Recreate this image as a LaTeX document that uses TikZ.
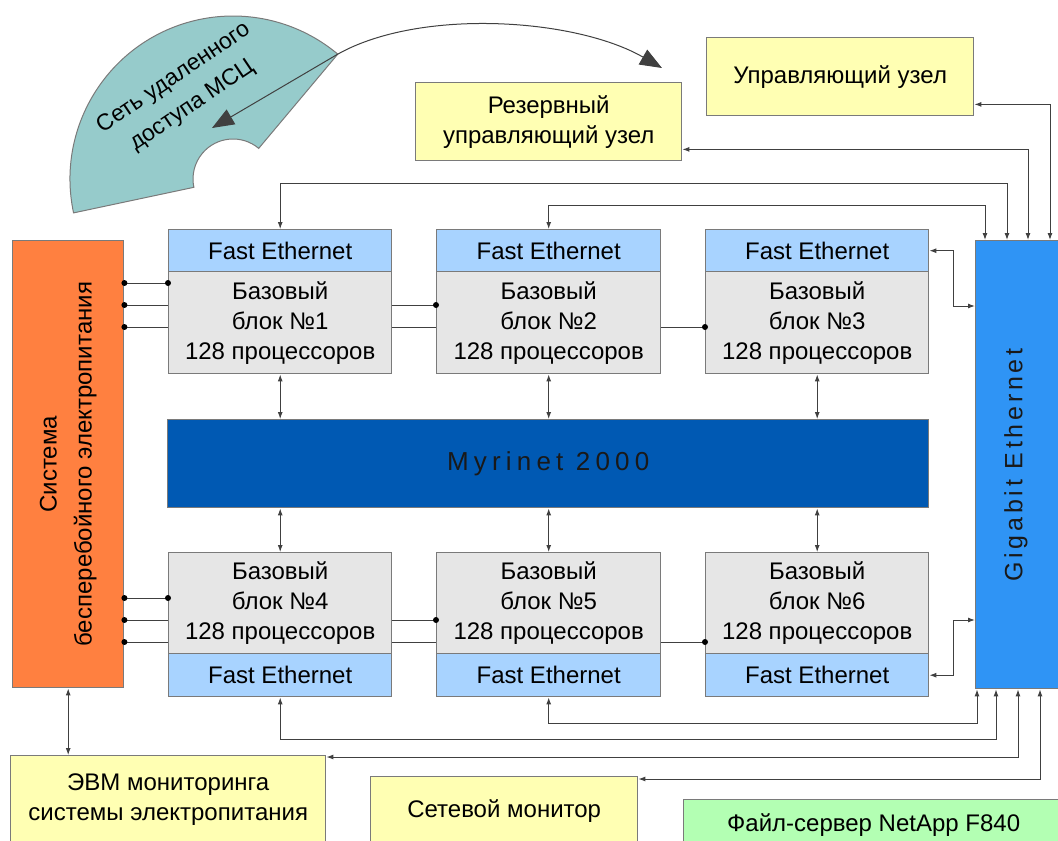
\documentclass[tikz,border=0pt]{standalone}
\usepackage{fontspec}
\setmainfont{Liberation Sans}
\newfontfamily\myrifont[LetterSpace=20]{Liberation Sans}
\newfontfamily\gigafont[LetterSpace=15]{Liberation Sans}
\usetikzlibrary{arrows.meta,calc}
\definecolor{feblue}{HTML}{A8D3FF}
\definecolor{bodygray}{HTML}{E6E6E6}
\definecolor{myri}{HTML}{0059B3}
\definecolor{giga}{HTML}{2F94F5}
\definecolor{upsorange}{HTML}{FF8040}
\definecolor{ylw}{HTML}{FFFFB3}
\definecolor{grn}{HTML}{B3FFB3}
\definecolor{tealarc}{HTML}{96CBCB}
\definecolor{edge}{HTML}{7A7A7A}
\definecolor{wirec}{HTML}{404040}
\begin{document}
\begin{tikzpicture}[x=1pt,y=-1pt,
  box/.style={draw=edge, line width=1.4pt, inner sep=0pt, anchor=north west,
    font=\fontsize{24}{30}\selectfont, align=center},
  wire/.style={draw=wirec, line width=1pt},
  dbl/.style={wire, {Latex[length=7pt,width=5pt]}-{Latex[length=7pt,width=5pt]}},
  dotc/.style={fill=black}
]
\useasboundingbox (0,0) rectangle (1058,841);

% remote access arc
\coordinate (ac) at (233,179);
\filldraw[fill=tealarc, draw=edge, line width=1pt]
  ($(ac)+(168:163)$) arc[start angle=168, end angle=310, radius=163]
  -- ($(ac)+(310:40)$) arc[start angle=310, end angle=168, radius=40] -- cycle;
\coordinate (arcpt) at ($(ac)+(310:163)$);
\node[rotate=34, align=center, font=\fontsize{23}{33}\selectfont] (msc) at (183,92)
  {Сеть удаленного\\доступа МСЦ};
\coordinate (tipA) at (662,68);
\coordinate (tipB) at (212,128);
\draw[wire, -{Triangle[length=22pt,width=17pt]}] (arcpt) .. controls (420,8) and (575,18) .. (tipA);
\draw[wire, -{Triangle[length=22pt,width=17pt]}] (arcpt) -- (tipB);

% control nodes
\node[box, fill=ylw, minimum width=267pt, minimum height=78pt] (ctrl) at (706,37) {Управляющий узел};
\node[box, fill=ylw, minimum width=266pt, minimum height=78pt] (res) at (415,82) {Резервный\\управляющий узел};

% UPS
\node[box, fill=upsorange, minimum width=111pt, minimum height=447pt] (ups) at (12,240) {};
\node[rotate=90, align=center, font=\fontsize{24}{35}\selectfont] (upsl) at (ups.center)
  {Система\\бесперебойного электропитания};

% Gigabit
\node[box, fill=giga, minimum width=88pt, minimum height=448pt] (gig) at (975,240) {};
\node[rotate=90, font=\gigafont\fontsize{25}{28}\selectfont, text=black!90] (gigl) at (1016,465) {Gigabit Ethernet};

% blocks top
\node[box, fill=feblue, minimum width=223pt, minimum height=42pt] (fe1) at (168,229) {Fast Ethernet};
\node[box, fill=bodygray, minimum width=223pt, minimum height=102pt] (b1) at (168,271) {Базовый\\блок №1\\128 процессоров};
\node[box, fill=feblue, minimum width=224pt, minimum height=42pt] (fe2) at (436,229) {Fast Ethernet};
\node[box, fill=bodygray, minimum width=224pt, minimum height=102pt] (b2) at (436,271) {Базовый\\блок №2\\128 процессоров};
\node[box, fill=feblue, minimum width=223pt, minimum height=42pt] (fe3) at (705,229) {Fast Ethernet};
\node[box, fill=bodygray, minimum width=223pt, minimum height=102pt] (b3) at (705,271) {Базовый\\блок №3\\128 процессоров};

% Myrinet
\node[box, fill=myri, minimum width=761pt, minimum height=88pt,
  font=\myrifont\fontsize{26}{30}\selectfont, text=black!90] (myr) at (167,419) {Myrinet 2000};

% blocks bottom
\node[box, fill=bodygray, minimum width=223pt, minimum height=101pt] (b4) at (168,552) {Базовый\\блок №4\\128 процессоров};
\node[box, fill=feblue, minimum width=223pt, minimum height=43pt] (fe4) at (168,653) {Fast Ethernet};
\node[box, fill=bodygray, minimum width=224pt, minimum height=101pt] (b5) at (436,552) {Базовый\\блок №5\\128 процессоров};
\node[box, fill=feblue, minimum width=224pt, minimum height=43pt] (fe5) at (436,653) {Fast Ethernet};
\node[box, fill=bodygray, minimum width=223pt, minimum height=101pt] (b6) at (705,552) {Базовый\\блок №6\\128 процессоров};
\node[box, fill=feblue, minimum width=223pt, minimum height=43pt] (fe6) at (705,653) {Fast Ethernet};

% bottom nodes
\node[box, fill=ylw, minimum width=315pt, minimum height=88pt] (evm) at (10,755) {ЭВМ мониторинга\\системы электропитания};
\node[box, fill=ylw, minimum width=267pt, minimum height=68pt] (net) at (370,776) {Сетевой монитор};
\node[box, fill=grn, minimum width=380pt, minimum height=50pt] (nas) at (683,799) {Файл-сервер NetApp F840};

% Gigabit top connections
\draw[dbl] (fe1.north) -- ++(0,-46) -| ($(gig.north west)+(32,0)$);
\draw[dbl] (fe2.north) -- ++(0,-24) -| ($(gig.north west)+(10,0)$);
\draw[dbl] ($(res.south east)+(0,-12)$) -| ($(gig.north west)+(53,0)$);
\draw[dbl] ($(ctrl.south east)+(0,-12)$) -| ($(gig.north west)+(75,0)$);
% side connections
\draw[dbl] (fe3.east) -- ++(24,0) |- ($(gig.north west)+(0,66)$);
\draw[dbl] (fe6.east) -- ++(24,0) |- ($(gig.north west)+(0,380)$);
% Gigabit bottom connections
\draw[dbl] (fe5.south) -- ++(0,26) -| ($(gig.south west)+(2,0)$);
\draw[dbl] (fe4.south) -- ++(0,42) -| ($(gig.south west)+(21,0)$);
\draw[dbl] ($(evm.north east)+(0,2)$) -| ($(gig.south west)+(43,0)$);
\draw[dbl] ($(net.north east)+(0,3)$) -| ($(gig.south west)+(65,0)$);

% Myrinet links
\foreach \b in {b1,b2,b3} {\draw[dbl] (\b.south) -- (\b.south |- myr.north);}
\foreach \b in {b4,b5,b6} {\draw[dbl] (myr.south -| \b.north) -- (\b.north);}

% UPS to monitoring PC
\draw[dbl] (ups.south) -- (ups.south |- evm.north);

% power lines top
\coordinate (p1) at ($(b1.north west)+(0,12)$);
\coordinate (p2) at ($(b1.north west)+(0,34)$);
\coordinate (p3) at ($(b1.north west)+(0,56)$);
\draw[wire] (p1 -| ups.east) -- (p1);
\draw[wire] (p2 -| ups.east) -- (p2);
\draw[wire] (p3 -| ups.east) -- (p3);
\draw[wire] (p2 -| b1.east) -- (p2 -| b2.west);
\draw[wire] (p3 -| b1.east) -- (p3 -| b2.west);
\draw[wire] (p3 -| b2.east) -- (p3 -| b3.west);
\foreach \c in {p1,p2,p3} {\fill[dotc] (\c -| ups.east) circle (3);}
\fill[dotc] (p1) circle (3);
\fill[dotc] (p2 -| b2.west) circle (3);
\fill[dotc] (p3 -| b3.west) circle (3);

% power lines bottom
\coordinate (q1) at ($(b4.north west)+(0,46)$);
\coordinate (q2) at ($(b4.north west)+(0,68)$);
\coordinate (q3) at ($(b4.north west)+(0,90)$);
\draw[wire] (q1 -| ups.east) -- (q1);
\draw[wire] (q2 -| ups.east) -- (q2);
\draw[wire] (q3 -| ups.east) -- (q3);
\draw[wire] (q2 -| b4.east) -- (q2 -| b5.west);
\draw[wire] (q3 -| b4.east) -- (q3 -| b5.west);
\draw[wire] (q3 -| b5.east) -- (q3 -| b6.west);
\foreach \c in {q1,q2,q3} {\fill[dotc] (\c -| ups.east) circle (3);}
\fill[dotc] (q1) circle (3);
\fill[dotc] (q2 -| b5.west) circle (3);
\fill[dotc] (q3 -| b6.west) circle (3);
\end{tikzpicture}
\end{document}
